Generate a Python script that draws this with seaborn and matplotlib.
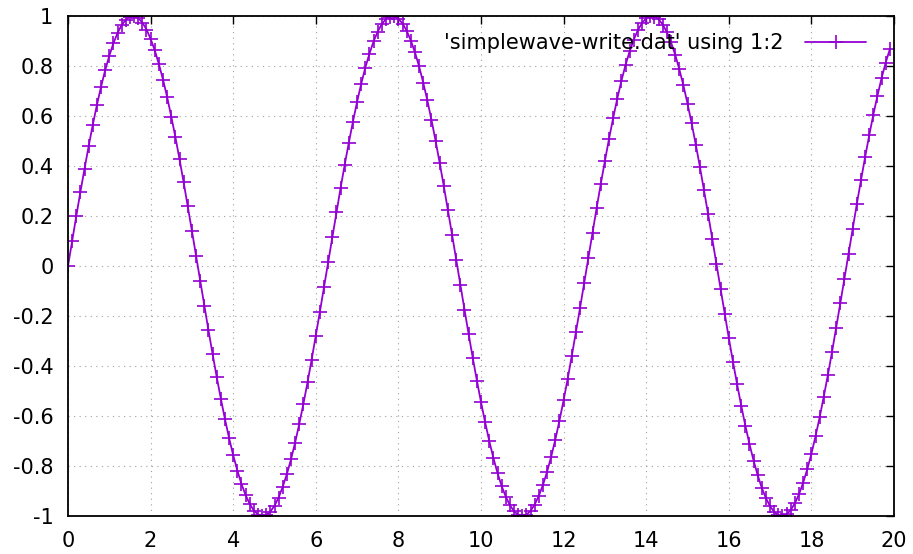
import matplotlib
matplotlib.use("Agg")
import matplotlib.pyplot as plt
import seaborn as sns
from matplotlib.ticker import FuncFormatter, MultipleLocator

# columnas 1:2 de simplewave-write.dat
xs = [
    0.0, 0.1, 0.2, 0.3, 0.4, 0.5, 0.6, 0.7, 0.8, 0.9, 1.0, 1.1, 1.2, 1.3, 1.4, 1.5, 1.6, 1.7, 1.8, 1.9,
    2.0, 2.1, 2.2, 2.3, 2.4, 2.5, 2.6, 2.7, 2.8, 2.9, 3.0, 3.1, 3.2, 3.3, 3.4, 3.5, 3.6, 3.7, 3.8, 3.9,
    4.0, 4.1, 4.2, 4.3, 4.4, 4.5, 4.6, 4.7, 4.8, 4.9, 5.0, 5.1, 5.2, 5.3, 5.4, 5.5, 5.6, 5.7, 5.8, 5.9,
    6.0, 6.1, 6.2, 6.3, 6.4, 6.5, 6.6, 6.7, 6.8, 6.9, 7.0, 7.1, 7.2, 7.3, 7.4, 7.5, 7.6, 7.7, 7.8, 7.9,
    8.0, 8.1, 8.2, 8.3, 8.4, 8.5, 8.6, 8.7, 8.8, 8.9, 9.0, 9.1, 9.2, 9.3, 9.4, 9.5, 9.6, 9.7, 9.8, 9.9,
    10.0, 10.1, 10.2, 10.3, 10.4, 10.5, 10.6, 10.7, 10.8, 10.9, 11.0, 11.1, 11.2, 11.3, 11.4, 11.5, 11.6, 11.7, 11.8, 11.9,
    12.0, 12.1, 12.2, 12.3, 12.4, 12.5, 12.6, 12.7, 12.8, 12.9, 13.0, 13.1, 13.2, 13.3, 13.4, 13.5, 13.6, 13.7, 13.8, 13.9,
    14.0, 14.1, 14.2, 14.3, 14.4, 14.5, 14.6, 14.7, 14.8, 14.9, 15.0, 15.1, 15.2, 15.3, 15.4, 15.5, 15.6, 15.7, 15.8, 15.9,
    16.0, 16.1, 16.2, 16.3, 16.4, 16.5, 16.6, 16.7, 16.8, 16.9, 17.0, 17.1, 17.2, 17.3, 17.4, 17.5, 17.6, 17.7, 17.8, 17.9,
    18.0, 18.1, 18.2, 18.3, 18.4, 18.5, 18.6, 18.7, 18.8, 18.9, 19.0, 19.1, 19.2, 19.3, 19.4, 19.5, 19.6, 19.7, 19.8, 19.9,
]
ys = [
    0.000, 0.100, 0.199, 0.296, 0.389, 0.479, 0.565, 0.644, 0.717, 0.783,
    0.841, 0.891, 0.932, 0.964, 0.985, 0.997, 1.000, 0.992, 0.974, 0.946,
    0.909, 0.863, 0.808, 0.746, 0.676, 0.598, 0.516, 0.427, 0.335, 0.239,
    0.141, 0.042, -0.058, -0.158, -0.256, -0.351, -0.443, -0.530, -0.612, -0.688,
    -0.757, -0.818, -0.872, -0.916, -0.952, -0.978, -0.994, -1.000, -0.996, -0.982,
    -0.959, -0.926, -0.883, -0.832, -0.773, -0.706, -0.631, -0.551, -0.465, -0.374,
    -0.279, -0.182, -0.083, 0.017, 0.117, 0.215, 0.312, 0.405, 0.494, 0.578,
    0.657, 0.729, 0.794, 0.850, 0.899, 0.938, 0.968, 0.988, 0.998, 0.999,
    0.989, 0.970, 0.941, 0.902, 0.855, 0.799, 0.734, 0.663, 0.585, 0.501,
    0.412, 0.319, 0.223, 0.125, 0.025, -0.075, -0.174, -0.272, -0.367, -0.458,
    -0.544, -0.625, -0.700, -0.768, -0.828, -0.880, -0.923, -0.957, -0.981, -0.995,
    -1.000, -0.995, -0.979, -0.954, -0.919, -0.876, -0.823, -0.762, -0.694, -0.618,
    -0.537, -0.450, -0.358, -0.263, -0.166, -0.066, 0.034, 0.133, 0.232, 0.328,
    0.420, 0.509, 0.592, 0.670, 0.741, 0.804, 0.859, 0.906, 0.944, 0.972,
    0.991, 0.999, 0.998, 0.987, 0.966, 0.935, 0.895, 0.846, 0.788, 0.723,
    0.650, 0.571, 0.486, 0.397, 0.303, 0.207, 0.108, 0.008, -0.092, -0.191,
    -0.288, -0.382, -0.472, -0.558, -0.638, -0.712, -0.778, -0.837, -0.888, -0.929,
    -0.961, -0.984, -0.997, -1.000, -0.993, -0.976, -0.949, -0.913, -0.867, -0.813,
    -0.751, -0.681, -0.605, -0.522, -0.435, -0.343, -0.247, -0.149, -0.050, 0.050,
    0.150, 0.248, 0.343, 0.435, 0.523, 0.606, 0.682, 0.752, 0.814, 0.868,
]
etiqueta = "'simplewave-write.dat' using 1:2"
color_linea = "#9400d3"

sns.set_style("white")
plt.rcParams["font.family"] = ["DejaVu Sans"]
plt.rcParams["axes.unicode_minus"] = False
plt.rcParams["text.color"] = "black"

fig = plt.figure(figsize=(9.13, 5.54), dpi=100)
ax = fig.add_axes([68 / 913, 1 - 516 / 554, (894 - 68) / 913, (516 - 16) / 554])

sns.lineplot(x=xs, y=ys, ax=ax, color=color_linea, linewidth=1.3,
             marker="+", markersize=9.5, markeredgewidth=1.2,
             markeredgecolor=color_linea, label=etiqueta)

ax.set_xlim(0, 20)
ax.set_ylim(-1, 1)
ax.xaxis.set_major_locator(MultipleLocator(2))
ax.yaxis.set_major_locator(MultipleLocator(0.2))
fmt = FuncFormatter(lambda v, pos: "%g" % round(v, 6))
ax.xaxis.set_major_formatter(fmt)
ax.yaxis.set_major_formatter(fmt)

ax.grid(True, color="#a0a0a0", linestyle=(0, (1, 4)), linewidth=0.8)
ax.tick_params(direction="in", top=True, right=True, length=6, width=1,
               labelsize=15, pad=10.5, colors="black")
for s in ax.spines.values():
    s.set_color("black")
    s.set_linewidth(1.3)

ax.legend(loc="upper right", bbox_to_anchor=(0.976, 0.983), frameon=False,
          fontsize=15, markerfirst=False, handlelength=2.9, handletextpad=1.05,
          borderaxespad=0, numpoints=1)

fig.savefig("out.png", dpi=100)
